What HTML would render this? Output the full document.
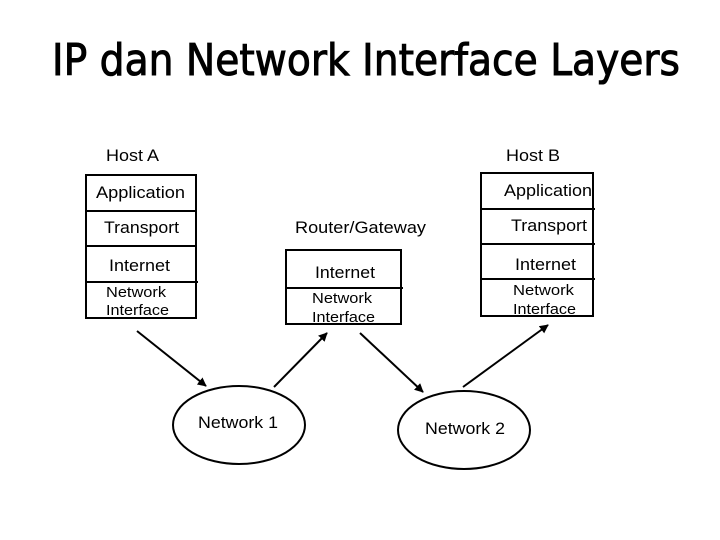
<!DOCTYPE html>
<html><head><meta charset="utf-8"><style>
html,body{margin:0;padding:0;background:#fff}
svg{display:block}
text{font-family:"Liberation Sans",Arial,sans-serif;fill:#000}
</style></head><body>
<svg width="720" height="540" viewBox="0 0 720 540" xmlns="http://www.w3.org/2000/svg">
<defs><marker id="ah" viewBox="0 0 10 10" refX="9" refY="5" markerWidth="9" markerHeight="9" orient="auto" markerUnits="userSpaceOnUse"><path d="M0,0 L10,5 L0,10 z" fill="#000"/></marker></defs>
<text x="52" y="75" font-size="44" textLength="628" lengthAdjust="spacingAndGlyphs" stroke="#000" stroke-width="1" style="font-family:'DejaVu Sans',sans-serif">IP dan Network Interface Layers</text>
<g font-size="17" lengthAdjust="spacingAndGlyphs">
<text x="106" y="161" textLength="53" lengthAdjust="spacingAndGlyphs">Host A</text>
<text x="506" y="161" textLength="54" lengthAdjust="spacingAndGlyphs">Host B</text>
</g>
<g fill="none" stroke="#000" stroke-width="2">
<rect x="86" y="175" width="110" height="143"/>
<line x1="86" y1="211" x2="196" y2="211"/>
<line x1="86" y1="246" x2="196" y2="246"/>
<line x1="86" y1="282" x2="198" y2="282"/>
<rect x="286" y="250" width="115" height="74"/>
<line x1="286" y1="288" x2="403" y2="288"/>
<rect x="481" y="173" width="112" height="143"/>
<line x1="481" y1="209" x2="595" y2="209"/>
<line x1="481" y1="244" x2="595" y2="244"/>
<line x1="481" y1="279" x2="595" y2="279"/>
<ellipse cx="239" cy="425" rx="66" ry="39"/>
<ellipse cx="464" cy="430" rx="66" ry="39"/>
<line x1="137" y1="331" x2="206" y2="386" marker-end="url(#ah)"/>
<line x1="274" y1="387" x2="327" y2="333" marker-end="url(#ah)"/>
<line x1="360" y1="333" x2="423" y2="392" marker-end="url(#ah)"/>
<line x1="463" y1="387" x2="548" y2="325" marker-end="url(#ah)"/>
</g>
<text x="96" y="198" font-size="17" textLength="89" lengthAdjust="spacingAndGlyphs">Application</text>
<text x="104" y="233" font-size="17" textLength="75" lengthAdjust="spacingAndGlyphs">Transport</text>
<text x="109" y="271" font-size="17" textLength="61" lengthAdjust="spacingAndGlyphs">Internet</text>
<text x="106" y="297" font-size="15" fill="#222" textLength="60" lengthAdjust="spacingAndGlyphs">Network</text>
<text x="106" y="315" font-size="15" fill="#222" textLength="63" lengthAdjust="spacingAndGlyphs">Interface</text>
<text x="295" y="233" font-size="17" textLength="131" lengthAdjust="spacingAndGlyphs">Router/Gateway</text>
<text x="315" y="278" font-size="17" textLength="60" lengthAdjust="spacingAndGlyphs">Internet</text>
<text x="312" y="303" font-size="15" fill="#222" textLength="60" lengthAdjust="spacingAndGlyphs">Network</text>
<text x="312" y="322" font-size="15" fill="#222" textLength="63" lengthAdjust="spacingAndGlyphs">Interface</text>
<text x="504" y="196" font-size="17" textLength="88" lengthAdjust="spacingAndGlyphs">Application</text>
<text x="511" y="231" font-size="17" textLength="76" lengthAdjust="spacingAndGlyphs">Transport</text>
<text x="515" y="270" font-size="17" textLength="61" lengthAdjust="spacingAndGlyphs">Internet</text>
<text x="513" y="295" font-size="15" fill="#222" textLength="61" lengthAdjust="spacingAndGlyphs">Network</text>
<text x="513" y="314" font-size="15" fill="#222" textLength="63" lengthAdjust="spacingAndGlyphs">Interface</text>
<text x="198" y="428" font-size="17" textLength="80" lengthAdjust="spacingAndGlyphs">Network 1</text>
<text x="425" y="434" font-size="17" textLength="80" lengthAdjust="spacingAndGlyphs">Network 2</text>
</svg>
</body></html>
